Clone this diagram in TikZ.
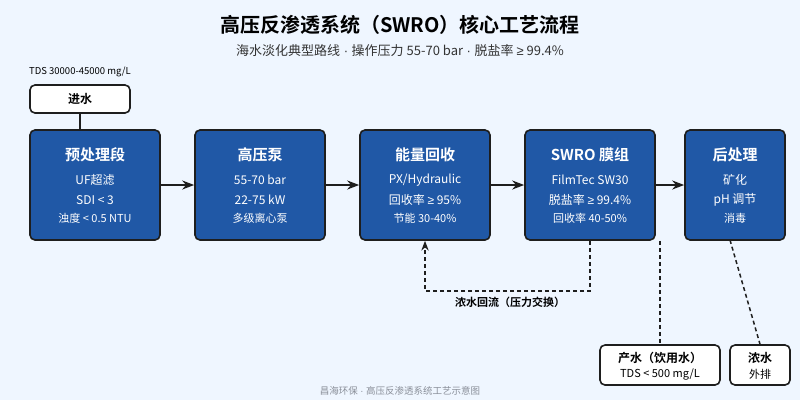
\documentclass[tikz,border=0pt]{standalone}
\usepackage{fontspec}
\setmainfont{Noto Sans CJK SC}[BoldFont={Noto Sans CJK SC Bold}]
\newfontfamily\latfont{Liberation Sans}
\newcommand{\atleast}{{\latfont ≥}}
\newcommand{\dotsep}{{\latfont\ ·\ }}
\usetikzlibrary{arrows.meta}

\definecolor{bgblue}{HTML}{EFF6FF}
\definecolor{stageblue}{HTML}{2058A6}
\definecolor{edgedark}{HTML}{1E1E1E}
\definecolor{subgray}{HTML}{333333}
\definecolor{footgray}{HTML}{8A8F99}

\tikzset{
  stage/.style={draw=edgedark,line width=1.6pt,fill=stageblue,rounded corners=5pt,
    minimum width=130pt,minimum height=110pt,inner sep=0pt},
  outbox/.style={draw=edgedark,line width=1.6pt,fill=white,rounded corners=5pt,
    minimum height=40pt,inner sep=0pt},
  hd/.style={text=white,font=\bfseries\fontsize{15}{18}\selectfont},
  ln/.style={text=white,font=\fontsize{12}{14}\selectfont},
  sm/.style={text=white,font=\fontsize{11}{13}\selectfont},
  flow/.style={->,line width=2pt,edgedark},
  back/.style={line width=1.5pt,edgedark,dash pattern=on 4pt off 3pt},
}

\begin{document}
\begin{tikzpicture}[x=1pt,y=-1pt,>=Stealth]
  \fill[bgblue] (0,0) rectangle (800,400);
  \useasboundingbox (0,0) rectangle (800,400);

  \node[font=\bfseries\fontsize{20}{24}\selectfont] (title) at (400,25) {高压反渗透系统（SWRO）核心工艺流程};
  \node[text=subgray,font=\fontsize{13}{16}\selectfont] (sub) at (400,51) {海水淡化典型路线\dotsep 操作压力 55-70 bar\dotsep 脱盐率 \atleast\ 99.4\%};
  \node[font=\fontsize{9.5}{11}\selectfont] (tds) at (80,72) {TDS 30000-45000 mg/L};
  \node[outbox,minimum width=100pt,minimum height=28pt,font=\bfseries\fontsize{12}{14}\selectfont] (feed) at (80,99) {进水};

  % main stages
  \node[stage] (pre) at (95,185) {};
  \node[stage] (pump) at (260,185) {};
  \node[stage] (erd) at (425,185) {};
  \node[stage] (ro) at (590,185) {};
  \node[stage,minimum width=100pt] (post) at (735,185) {};

  \node[hd] at (95,155) {预处理段};
  \node[ln] at (95,180) {UF超滤};
  \node[ln] at (95,200) {SDI < 3};
  \node[sm] at (95,218) {浊度 < 0.5 NTU};

  \node[hd] at (260,155) {高压泵};
  \node[ln] at (260,180) {55-70 bar};
  \node[ln] at (260,200) {22-75 kW};
  \node[sm] at (260,218) {多级离心泵};

  \node[hd] at (425,155) {能量回收};
  \node[ln] at (425,180) {PX/Hydraulic};
  \node[ln] at (425,200) {回收率 \atleast\ 95\%};
  \node[sm] at (425,218) {节能 30-40\%};

  \node[hd] at (590,155) {SWRO 膜组};
  \node[ln] at (590,180) {FilmTec SW30};
  \node[ln] at (590,200) {脱盐率 \atleast\ 99.4\%};
  \node[sm] at (590,218) {回收率 40-50\%};

  \node[hd] at (735,155) {后处理};
  \node[ln] at (735,180) {矿化};
  \node[ln] at (735,200) {pH 调节};
  \node[sm] at (735,218) {消毒};

  % outputs
  \node[outbox,minimum width=120pt] (prod) at (660,365) {};
  \node[font=\bfseries\fontsize{12}{14}\selectfont] at (660,358) {产水（饮用水）};
  \node[font=\fontsize{11}{13}\selectfont] at (660,374) {TDS < 500 mg/L};
  \node[outbox,minimum width=60pt] (brine) at (760,365) {};
  \node[font=\bfseries\fontsize{12}{14}\selectfont] at (760,358) {浓水};
  \node[font=\fontsize{11}{13}\selectfont] at (760,374) {外排};

  \node[font=\bfseries\fontsize{11}{13}\selectfont] (backlbl) at (510,302) {浓水回流（压力交换）};
  \node[text=footgray,font=\fontsize{9.5}{11}\selectfont] (foot) at (400,391) {昌海环保\dotsep 高压反渗透系统工艺示意图};

  % connectors
  \draw[line width=1.6pt,edgedark] (feed.south) -- (feed.south |- pre.north);
  \draw[flow] (pre.east) -- (pump.west);
  \draw[flow] (pump.east) -- (erd.west);
  \draw[flow] (erd.east) -- (ro.west);
  \draw[flow] (ro.east) -- (post.west);
  \draw[back,->] (ro.south) -- ++(0,50) -| (erd.south);
  \draw[back] (prod.north |- ro.south) -- (prod.north);
  \draw[back] (730,240) -- (brine.north);
\end{tikzpicture}
\end{document}
